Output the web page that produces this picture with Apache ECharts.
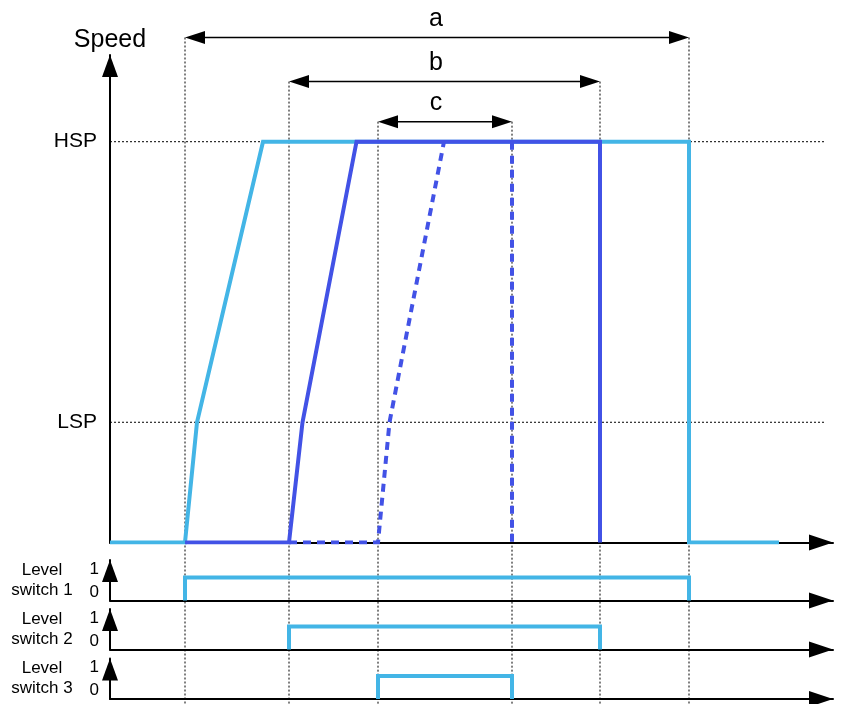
<!DOCTYPE html>
<html><head><meta charset="utf-8">
<script src="https://cdn.jsdelivr.net/npm/echarts@6/dist/echarts.min.js"></script>
<style>html,body{margin:0;padding:0;background:#fff}#c{width:846px;height:704px}</style>
</head><body><div id="c"></div>
<script>
// ---- data ----
const speedTickLabels = {100: 'HSP', 30: 'LSP'};
const refSpeeds = [100, 30];
const refLineEnd = 714;
const speedA = [[0,0],[75,0],[87,30],[153,100],[579,100],[579,0],[669,0]];
const speedB = [[75,0],[179,0],[192.5,30],[246.5,100],[490,100],[490,0]];
const speedCRamp = [[179,0],[268,0],[279.5,30],[334,100]];
const speedCStop = [[402,100],[402,0]];
const switch1 = [[75,0],[75,1],[579,1],[579,0]];
const switch2 = [[179,0],[179,1],[490,1],[490,0]];
const switch3 = [[268,0],[268,1],[402,1],[402,0]];
const switchNames = ['Level\nswitch 1','Level\nswitch 2','Level\nswitch 3'];
const dimNames = ['a','b','c'];
const dimStart = [75, 179, 268];
const dimEnd = [579, 490, 402];
const dimLevel = [126, 115, 105];
const dimLabelAt = [326, 326, 326];
const guideTimes = [75, 179, 268, 402, 490, 579];

// ---- layout / style ----
const FONT = 'Liberation Sans, Arial, sans-serif';
const LIGHT = '#43b5e6';
const DARK = '#4252e6';
const X_MAX = 723;
const K = (542.5 - 141.7) / 100;
const SPEED_MAX = (542.5 - 55) / K;
const OV_MIN = -(704 - 542.5) / K;
const OV_MAX = 542.5 / K;
const SW_MAX = 40.5 / 23;

const guideTops = guideTimes.map(t => {
  let lv = OV_MIN;
  dimStart.forEach((s, i) => { if (s === t) lv = Math.max(lv, dimLevel[i]); });
  dimEnd.forEach((e, i) => { if (e === t) lv = Math.max(lv, dimLevel[i]); });
  return lv;
});

const arrowLine = (sz) => ({
  show: true, symbol: ['none', 'triangle'], symbolSize: sz, symbolOffset: [0, -sz[1] / 2],
  lineStyle: {color: '#000', width: 2}
});

const gridBase = {left: 110, right: 13, containLabel: false, outerBoundsMode: 'none'};
const grids = [
  Object.assign({top: 0, bottom: 0}, gridBase),
  Object.assign({top: 55, bottom: 161.5}, gridBase),
  Object.assign({top: 560, bottom: 103.5}, gridBase),
  Object.assign({top: 609, bottom: 54.5}, gridBase),
  Object.assign({top: 658.5, bottom: 5}, gridBase)
];

const xAxes = grids.map((g, i) => ({
  type: 'value', gridIndex: i, min: 0, max: X_MAX, show: i !== 0,
  axisLine: arrowLine([16, 24]), axisTick: {show: false}, axisLabel: {show: false}, splitLine: {show: false}
}));

const yAxes = [
  {type: 'value', gridIndex: 0, min: OV_MIN, max: OV_MAX, show: false},
  {type: 'value', gridIndex: 1, min: 0, max: SPEED_MAX, interval: 10,
   axisLine: arrowLine([16, 22]), axisTick: {show: false}, splitLine: {show: false},
   axisLabel: {showMaxLabel: false, formatter: v => speedTickLabels[v] || '', color: '#000', fontSize: 21, fontFamily: FONT, margin: 13},
   name: 'Speed', nameLocation: 'end', nameGap: 2,
   nameTextStyle: {color: '#000', fontSize: 25, fontFamily: FONT, align: 'center', verticalAlign: 'bottom'}}
];
switchNames.forEach((n, i) => {
  yAxes.push({type: 'value', gridIndex: i + 2, min: 0, max: SW_MAX, interval: 1,
    axisLine: arrowLine([16, 22]), axisTick: {show: false}, splitLine: {show: false},
    axisLabel: {showMaxLabel: false, formatter: v => (v === 0 || v === 1) ? String(v) : '', color: '#000', fontSize: 17, fontFamily: FONT, margin: 11, verticalAlign: 'bottom'},
    name: n, nameLocation: 'middle', nameRotate: 0, nameGap: 68,
    nameTextStyle: {color: '#000', fontSize: 17, fontFamily: FONT, align: 'center', verticalAlign: 'middle', lineHeight: 20}});
});

const lineSeries = (data, gi, color, extra) => Object.assign({
  type: 'line', xAxisIndex: gi, yAxisIndex: gi, data: data, symbol: 'none', silent: true,
  lineStyle: Object.assign({color: color, width: 4, cap: 'butt', join: 'miter'}, extra || {}),
  z: 3, animation: false
});

const series = [
  // guides
  {type: 'custom', xAxisIndex: 0, yAxisIndex: 0, z: 1, silent: true, clip: false, animation: false,
   data: guideTimes.map((t, i) => [t, guideTops[i]]),
   renderItem: (params, api) => {
     const p1 = api.coord([api.value(0), api.value(1)]);
     const p2 = api.coord([api.value(0), OV_MIN]);
     return {type: 'line', shape: {x1: p1[0], y1: p1[1], x2: p2[0], y2: p2[1]},
       style: {stroke: '#000', lineWidth: 1, lineDash: [2, 2]}};
   }},
  // dimension arrows
  {type: 'custom', xAxisIndex: 0, yAxisIndex: 0, z: 4, silent: true, clip: false, animation: false,
   data: dimNames.map((n, i) => [dimStart[i], dimEnd[i], dimLevel[i], dimLabelAt[i]]),
   renderItem: (params, api) => {
     const lv = api.value(2);
     const p1 = api.coord([api.value(0), lv]);
     const p2 = api.coord([api.value(1), lv]);
     const pl = api.coord([api.value(3), lv]);
     const L = 20, H = 6.5;
     return {type: 'group', children: [
       {type: 'line', shape: {x1: p1[0] + 5, y1: p1[1], x2: p2[0] - 5, y2: p2[1]}, style: {stroke: '#000', lineWidth: 1.5}},
       {type: 'polygon', shape: {points: [[p1[0], p1[1]], [p1[0] + L, p1[1] - H], [p1[0] + L, p1[1] + H]]}, style: {fill: '#000'}},
       {type: 'polygon', shape: {points: [[p2[0], p2[1]], [p2[0] - L, p2[1] - H], [p2[0] - L, p2[1] + H]]}, style: {fill: '#000'}},
       {type: 'text', x: pl[0], y: p1[1] - 6, style: {text: dimNames[params.dataIndex], fontSize: 25, fontFamily: FONT, fill: '#000', align: 'center', verticalAlign: 'bottom'}}
     ]};
   }},
  // reference speed lines
  ...refSpeeds.map(v => lineSeries([[0, v], [refLineEnd, v]], 1, '#000', {width: 1, type: [2, 2]})),
  lineSeries(speedA, 1, LIGHT),
  lineSeries(speedB, 1, DARK),
  lineSeries(speedCRamp, 1, DARK, {type: [8, 6]}),
  lineSeries(speedCStop, 1, DARK, {type: [8, 6]}),
  lineSeries(switch1, 2, LIGHT),
  lineSeries(switch2, 3, LIGHT),
  lineSeries(switch3, 4, LIGHT)
];
series.forEach(s => { if (s.type === 'line' && s.lineStyle.width === 1) s.z = 2; });

const chart = echarts.init(document.getElementById('c'));
chart.setOption({
  animation: false,
  backgroundColor: '#fff',
  textStyle: {fontFamily: FONT},
  grid: grids,
  xAxis: xAxes,
  yAxis: yAxes,
  series: series
});
</script>
</body></html>
